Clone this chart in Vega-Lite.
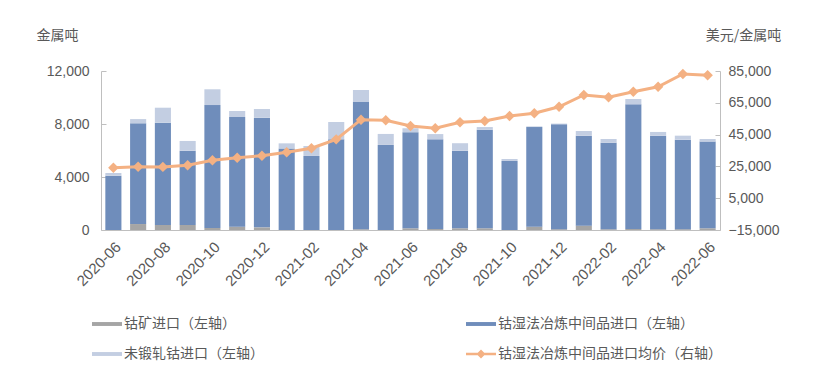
{
  "$schema": "https://vega.github.io/schema/vega-lite/v6.json",
  "width": 619,
  "height": 159,
  "autosize": {"type": "none"},
  "padding": {"left": 101, "top": 71, "right": 103, "bottom": 147},
  "background": "white",
  "config": {
    "view": {"stroke": null},
    "font": "Liberation Sans, Noto Sans CJK SC",
    "axis": {
      "labelColor": "#595959",
      "titleColor": "#595959",
      "domainColor": "#BFBFBF",
      "tickColor": "#BFBFBF",
      "grid": false,
      "labelFontSize": 14,
      "titleFontSize": 14,
      "titleFontWeight": "normal",
      "titleFont": "Noto Sans CJK SC"
    },
    "legend": {
      "title": null,
      "orient": "none",
      "legendX": -9,
      "legendY": 238,
      "columns": 2,
      "columnPadding": 202,
      "rowPadding": 8,
      "symbolSize": 900,
      "symbolStrokeWidth": 0,
      "labelFontSize": 14,
      "labelColor": "#595959",
      "labelFont": "Noto Sans CJK SC",
      "labelOffset": 2,
      "labelLimit": 400
    }
  },
  "data": {
    "values": [
      {"month": "2020-06", "钴矿进口（左轴）": 0, "钴湿法冶炼中间品进口（左轴）": 4100, "未锻轧钴进口（左轴）": 200, "price": 24200},
      {"month": "2020-07", "钴矿进口（左轴）": 450, "钴湿法冶炼中间品进口（左轴）": 7600, "未锻轧钴进口（左轴）": 320, "price": 24800},
      {"month": "2020-08", "钴矿进口（左轴）": 380, "钴湿法冶炼中间品进口（左轴）": 7720, "未锻轧钴进口（左轴）": 1130, "price": 24700},
      {"month": "2020-09", "钴矿进口（左轴）": 380, "钴湿法冶炼中间品进口（左轴）": 5610, "未锻轧钴进口（左轴）": 730, "price": 25700},
      {"month": "2020-10", "钴矿进口（左轴）": 150, "钴湿法冶炼中间品进口（左轴）": 9280, "未锻轧钴进口（左轴）": 1190, "price": 28800},
      {"month": "2020-11", "钴矿进口（左轴）": 250, "钴湿法冶炼中间品进口（左轴）": 8280, "未锻轧钴进口（左轴）": 450, "price": 30500},
      {"month": "2020-12", "钴矿进口（左轴）": 200, "钴湿法冶炼中间品进口（左轴）": 8280, "未锻轧钴进口（左轴）": 650, "price": 31700},
      {"month": "2021-01", "钴矿进口（左轴）": 0, "钴湿法冶炼中间品进口（左轴）": 6160, "未锻轧钴进口（左轴）": 380, "price": 33900},
      {"month": "2021-02", "钴矿进口（左轴）": 0, "钴湿法冶炼中间品进口（左轴）": 5590, "未锻轧钴进口（左轴）": 750, "price": 36400},
      {"month": "2021-03", "钴矿进口（左轴）": 0, "钴湿法冶炼中间品进口（左轴）": 6840, "未锻轧钴进口（左轴）": 1310, "price": 42000},
      {"month": "2021-04", "钴矿进口（左轴）": 60, "钴湿法冶炼中间品进口（左轴）": 9600, "未锻轧钴进口（左轴）": 900, "price": 54400},
      {"month": "2021-05", "钴矿进口（左轴）": 0, "钴湿法冶炼中间品进口（左轴）": 6420, "未锻轧钴进口（左轴）": 830, "price": 54000},
      {"month": "2021-06", "钴矿进口（左轴）": 130, "钴湿法冶炼中间品进口（左轴）": 7250, "未锻轧钴进口（左轴）": 300, "price": 50400},
      {"month": "2021-07", "钴矿进口（左轴）": 80, "钴湿法冶炼中间品进口（左轴）": 6760, "未锻轧钴进口（左轴）": 400, "price": 49000},
      {"month": "2021-08", "钴矿进口（左轴）": 130, "钴湿法冶炼中间品进口（左轴）": 5860, "未锻轧钴进口（左轴）": 560, "price": 52700},
      {"month": "2021-09", "钴矿进口（左轴）": 130, "钴湿法冶炼中间品进口（左轴）": 7440, "未锻轧钴进口（左轴）": 200, "price": 53600},
      {"month": "2021-10", "钴矿进口（左轴）": 0, "钴湿法冶炼中间品进口（左轴）": 5210, "未锻轧钴进口（左轴）": 150, "price": 56700},
      {"month": "2021-11", "钴矿进口（左轴）": 250, "钴湿法冶炼中间品进口（左轴）": 7520, "未锻轧钴进口（左轴）": 50, "price": 58400},
      {"month": "2021-12", "钴矿进口（左轴）": 60, "钴湿法冶炼中间品进口（左轴）": 7920, "未锻轧钴进口（左轴）": 50, "price": 62500},
      {"month": "2022-01", "钴矿进口（左轴）": 330, "钴湿法冶炼中间品进口（左轴）": 6790, "未锻轧钴进口（左轴）": 350, "price": 69900},
      {"month": "2022-02", "钴矿进口（左轴）": 60, "钴湿法冶炼中间品进口（左轴）": 6530, "未锻轧钴进口（左轴）": 280, "price": 68500},
      {"month": "2022-03", "钴矿进口（左轴）": 75, "钴湿法冶炼中间品进口（左轴）": 9410, "未锻轧钴进口（左轴）": 400, "price": 72000},
      {"month": "2022-04", "钴矿进口（左轴）": 60, "钴湿法冶炼中间品进口（左轴）": 7060, "未锻轧钴进口（左轴）": 280, "price": 75100},
      {"month": "2022-05", "钴矿进口（左轴）": 60, "钴湿法冶炼中间品进口（左轴）": 6760, "未锻轧钴进口（左轴）": 300, "price": 83100},
      {"month": "2022-06", "钴矿进口（左轴）": 130, "钴湿法冶炼中间品进口（左轴）": 6540, "未锻轧钴进口（左轴）": 200, "price": 82300}
    ]
  },
  "encoding": {
    "x": {
      "field": "month",
      "type": "ordinal",
      "title": null,
      "scale": {"paddingInner": 0.35, "paddingOuter": 0.175},
      "axis": {
        "values": ["2020-06", "2020-08", "2020-10", "2020-12", "2021-02", "2021-04", "2021-06", "2021-08", "2021-10", "2021-12", "2022-02", "2022-04", "2022-06"],
        "labelAngle": -45,
        "labelFontSize": 15,
        "ticks": false,
        "labelPadding": 9
      }
    }
  },
  "layer": [
    {
      "transform": [
        {"fold": ["钴矿进口（左轴）", "钴湿法冶炼中间品进口（左轴）", "未锻轧钴进口（左轴）"], "as": ["series", "value"]},
        {"calculate": "indexof(['钴矿进口（左轴）', '钴湿法冶炼中间品进口（左轴）', '未锻轧钴进口（左轴）'], datum.series)", "as": "ord"}
      ],
      "mark": {"type": "bar"},
      "encoding": {
        "y": {
          "field": "value",
          "type": "quantitative",
          "stack": "zero",
          "title": "金属吨",
          "scale": {"domain": [0, 12000], "nice": false, "zero": true},
          "axis": {
            "values": [0, 4000, 8000, 12000],
            "format": ",.0f",
            "tickSize": -5,
            "labelPadding": 17,
            "titleAngle": 0,
            "titleAlign": "center",
            "titleBaseline": "middle",
            "titleX": -44,
            "titleY": -36
          }
        },
        "color": {
          "field": "series",
          "type": "nominal",
          "scale": {
            "domain": ["钴矿进口（左轴）", "未锻轧钴进口（左轴）", "钴湿法冶炼中间品进口（左轴）", "钴湿法冶炼中间品进口均价（右轴）"],
            "range": ["#A5A5A5", "#C3CEE2", "#6F8DBB", "#F4B183"]
          }
        },
        "order": {"field": "ord", "type": "quantitative", "sort": "ascending"}
      }
    },
    {
      "encoding": {
        "y": {
          "field": "price",
          "type": "quantitative",
          "title": "美元/金属吨",
          "scale": {"domain": [-15000, 85000], "nice": false, "zero": false},
          "axis": {
            "orient": "right",
            "values": [-15000, 5000, 25000, 45000, 65000, 85000],
            "format": ",.0f",
            "tickSize": -5,
            "labelPadding": 13,
            "titleAngle": 0,
            "titleAlign": "center",
            "titleBaseline": "middle",
            "titleX": 23,
            "titleY": -36
          }
        }
      },
      "layer": [
        {"mark": {"type": "line", "color": "#F4B183", "strokeWidth": 3}},
        {"mark": {"type": "point", "shape": "diamond", "filled": true, "color": "#F4B183", "size": 110, "opacity": 1}}
      ]
    },
    {
      "data": {"values": []},
      "mark": {"type": "point", "filled": true, "opacity": 1},
      "encoding": {
        "color": {
          "field": "series",
          "type": "nominal",
          "scale": {
            "domain": ["钴矿进口（左轴）", "未锻轧钴进口（左轴）", "钴湿法冶炼中间品进口（左轴）", "钴湿法冶炼中间品进口均价（右轴）"],
            "range": ["#A5A5A5", "#C3CEE2", "#6F8DBB", "#F4B183"]
          }
        },
        "shape": {
          "field": "series",
          "type": "nominal",
          "scale": {
            "domain": ["钴矿进口（左轴）", "未锻轧钴进口（左轴）", "钴湿法冶炼中间品进口（左轴）", "钴湿法冶炼中间品进口均价（右轴）"],
            "range": ["M-1,-0.13H1V0.13H-1Z", "M-1,-0.13H1V0.13H-1Z", "M-1,-0.13H1V0.13H-1Z", "M-1,-0.08H1V0.08H-1Z M0,-0.3L0.3,0L0,0.3L-0.3,0Z"]
          }
        }
      }
    }
  ],
  "resolve": {"scale": {"y": "independent"}}
}
